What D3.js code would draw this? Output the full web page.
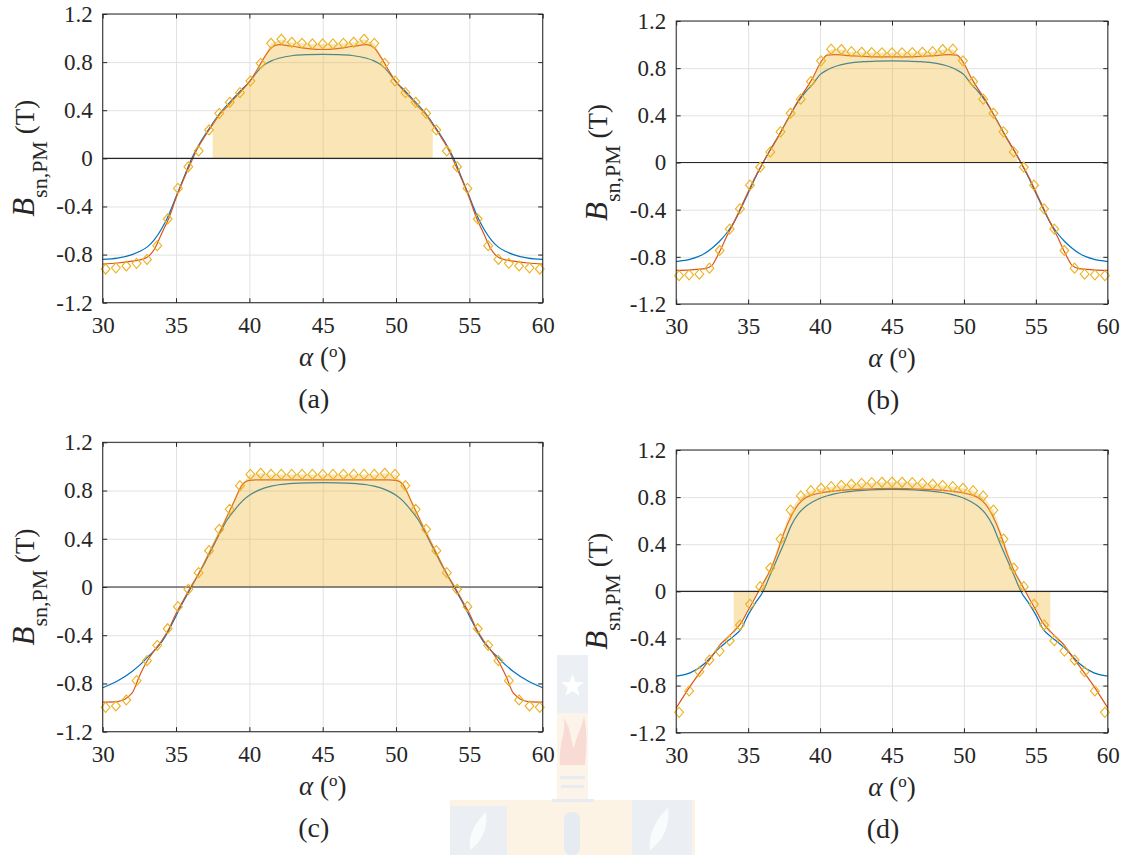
<!DOCTYPE html>
<html lang="en">
<head>
<meta charset="UTF-8">
<script src="https://d3js.org/d3.v7.min.js"></script>
<style>
  body { margin: 0; background: #fff; }
  svg text { font-family: "Liberation Serif", "Times New Roman", serif; fill: #262626; }
</style>
</head>
<body>
<svg id="fig" width="1124" height="855"></svg>
<script>
// axis ticks
const tickX = [30, 35, 40, 45, 50, 55, 60];
const tickY = [-1.2, -0.8, -0.4, 0, 0.4, 0.8, 1.2];

// angle of the diamond samples (deg)
const markerAlpha = [30.20, 30.90, 31.61, 32.31, 33.02, 33.72, 34.43, 35.13, 35.84, 36.54, 37.25,
  37.95, 38.66, 39.36, 40.07, 40.77, 41.48, 42.18, 42.89, 43.59, 44.30, 45.00, 45.70, 46.41, 47.11,
  47.82, 48.52, 49.23, 49.93, 50.64, 51.34, 52.05, 52.75, 53.46, 54.16, 54.87, 55.57, 56.28, 56.98,
  57.69, 58.39, 59.10, 59.80];

// angle of the line samples (deg)
const curveAlpha = [30, 31, 32, 32.5, 33, 33.5, 34, 34.5, 35, 35.5, 36, 36.5, 37, 37.5, 38, 38.5,
  39, 39.5, 40, 40.5, 41, 41.5, 42, 43, 44, 45, 46, 47, 48, 48.5, 49, 49.5, 50, 50.5, 51, 51.5, 52,
  52.5, 53, 53.5, 54, 54.5, 55, 55.5, 56, 56.5, 57, 57.5, 58, 59, 60];

// (a)
const markA = [-0.92, -0.91, -0.895, -0.873, -0.84, -0.726, -0.504, -0.25, -0.07, 0.061, 0.236,
  0.374, 0.466, 0.546, 0.643, 0.79, 0.956, 0.99, 0.965, 0.956, 0.951, 0.951, 0.951, 0.956, 0.965,
  0.99, 0.956, 0.79, 0.643, 0.546, 0.466, 0.374, 0.236, 0.061, -0.07, -0.25, -0.504, -0.726, -0.84,
  -0.873, -0.895, -0.91, -0.92];
const redA = [-0.88, -0.87, -0.855, -0.845, -0.825, -0.76, -0.63, -0.50, -0.33, -0.18, -0.04, 0.09,
  0.19, 0.28, 0.37, 0.43, 0.50, 0.565, 0.635, 0.73, 0.835, 0.92, 0.945, 0.93, 0.912, 0.905,
  0.912, 0.93, 0.945, 0.92, 0.835, 0.73, 0.635, 0.565, 0.50, 0.43, 0.37, 0.28, 0.19, 0.09, -0.04,
  -0.18, -0.33, -0.50, -0.63, -0.76, -0.825, -0.845, -0.855, -0.87, -0.88];
const blueA = [-0.84, -0.83, -0.80, -0.775, -0.74, -0.68, -0.59, -0.47, -0.32, -0.17, -0.02, 0.10,
  0.20, 0.29, 0.375, 0.445, 0.51, 0.575, 0.635, 0.715, 0.775, 0.81, 0.832, 0.855, 0.862, 0.864,
  0.862, 0.855, 0.832, 0.81, 0.775, 0.715, 0.635, 0.575, 0.51, 0.445, 0.375, 0.29, 0.20, 0.10, -0.02,
  -0.17, -0.32, -0.47, -0.59, -0.68, -0.74, -0.775, -0.80, -0.83, -0.84];
const fillA = [37.5, 52.5];

// (b)
const markB = [-0.96, -0.953, -0.947, -0.896, -0.746, -0.565, -0.393, -0.192, -0.04, 0.09, 0.26,
  0.418, 0.537, 0.687, 0.862, 0.961, 0.958, 0.94, 0.935, 0.932, 0.93, 0.93, 0.93, 0.932, 0.935,
  0.94, 0.958, 0.961, 0.862, 0.687, 0.537, 0.418, 0.26, 0.09, -0.04, -0.192, -0.393, -0.565, -0.746,
  -0.896, -0.947, -0.953, -0.96];
const redB = [-0.915, -0.91, -0.90, -0.87, -0.76, -0.63, -0.51, -0.38, -0.25, -0.12, -0.01, 0.10,
  0.20, 0.31, 0.42, 0.53, 0.62, 0.72, 0.84, 0.91, 0.915, 0.912, 0.906, 0.90, 0.896, 0.895,
  0.896, 0.90, 0.906, 0.912, 0.915, 0.91, 0.84, 0.72, 0.62, 0.53, 0.42, 0.31, 0.20, 0.10, -0.01,
  -0.12, -0.25, -0.38, -0.51, -0.63, -0.76, -0.87, -0.90, -0.91, -0.915];
const blueB = [-0.84, -0.82, -0.77, -0.725, -0.67, -0.60, -0.51, -0.39, -0.26, -0.13, -0.01, 0.10,
  0.20, 0.31, 0.42, 0.52, 0.60, 0.665, 0.745, 0.785, 0.812, 0.83, 0.843, 0.855, 0.86, 0.862,
  0.86, 0.855, 0.843, 0.83, 0.812, 0.785, 0.745, 0.665, 0.60, 0.52, 0.42, 0.31, 0.20, 0.10, -0.01,
  -0.13, -0.26, -0.39, -0.51, -0.60, -0.67, -0.725, -0.77, -0.82, -0.84];
const fillB = [36.3, 53.7];

// (c)
const markC = [-0.998, -0.987, -0.937, -0.777, -0.611, -0.484, -0.346, -0.163, -0.019, 0.119, 0.301,
  0.478, 0.644, 0.84, 0.934, 0.943, 0.934, 0.934, 0.934, 0.934, 0.934, 0.934, 0.934, 0.934, 0.934,
  0.934, 0.934, 0.943, 0.934, 0.84, 0.644, 0.478, 0.301, 0.119, -0.019, -0.163, -0.346, -0.484, -0.611,
  -0.777, -0.937, -0.987, -0.998];
const redC = [-0.955, -0.95, -0.88, -0.74, -0.62, -0.53, -0.45, -0.35, -0.22, -0.11, 0.00, 0.10,
  0.22, 0.34, 0.46, 0.59, 0.72, 0.845, 0.885, 0.888, 0.888, 0.888, 0.888, 0.888, 0.888, 0.888,
  0.888, 0.888, 0.888, 0.888, 0.888, 0.888, 0.885, 0.845, 0.72, 0.59, 0.46, 0.34, 0.22, 0.10, 0.00,
  -0.11, -0.22, -0.35, -0.45, -0.53, -0.62, -0.74, -0.88, -0.95, -0.955];
const blueC = [-0.835, -0.78, -0.70, -0.65, -0.59, -0.53, -0.46, -0.36, -0.24, -0.12, -0.01, 0.10,
  0.21, 0.33, 0.45, 0.56, 0.64, 0.71, 0.76, 0.795, 0.82, 0.837, 0.848, 0.86, 0.864, 0.865,
  0.864, 0.86, 0.848, 0.837, 0.82, 0.795, 0.76, 0.71, 0.64, 0.56, 0.45, 0.33, 0.21, 0.10, -0.01,
  -0.12, -0.24, -0.36, -0.46, -0.53, -0.59, -0.65, -0.70, -0.78, -0.835];
const fillC = [36.0, 54.0];

// (d)
const markD = [-1.027, -0.845, -0.682, -0.583, -0.507, -0.419, -0.286, -0.11, 0.04, 0.198, 0.444,
  0.69, 0.81, 0.855, 0.875, 0.889, 0.90, 0.909, 0.917, 0.923, 0.926, 0.928, 0.926, 0.923, 0.917,
  0.909, 0.90, 0.889, 0.875, 0.855, 0.81, 0.69, 0.444, 0.198, 0.04, -0.11, -0.286, -0.419, -0.507,
  -0.583, -0.682, -0.845, -1.027];
const redD = [-0.99, -0.80, -0.63, -0.55, -0.46, -0.40, -0.34, -0.27, -0.16, -0.05, 0.06, 0.17,
  0.32, 0.50, 0.64, 0.74, 0.795, 0.82, 0.835, 0.845, 0.852, 0.858, 0.862, 0.868, 0.873, 0.875,
  0.873, 0.868, 0.862, 0.858, 0.852, 0.845, 0.835, 0.82, 0.795, 0.74, 0.64, 0.50, 0.32, 0.17, 0.06,
  -0.05, -0.16, -0.27, -0.34, -0.40, -0.46, -0.55, -0.63, -0.80, -0.99];
const blueD = [-0.72, -0.69, -0.61, -0.545, -0.48, -0.43, -0.38, -0.32, -0.20, -0.10, -0.01, 0.13,
  0.27, 0.41, 0.56, 0.66, 0.72, 0.76, 0.79, 0.812, 0.828, 0.839, 0.847, 0.858, 0.864, 0.866,
  0.864, 0.858, 0.847, 0.839, 0.828, 0.812, 0.79, 0.76, 0.72, 0.66, 0.56, 0.41, 0.27, 0.13, -0.01,
  -0.10, -0.20, -0.32, -0.38, -0.43, -0.48, -0.545, -0.61, -0.69, -0.72];
const fillD = [34.0, 56.0];

const captions = ["(a)", "(b)", "(c)", "(d)"];

const panels = [
  { box: [102.7, 542.7, 14, 302.7], mark: markA, red: redA, blue: blueA, fill: fillA },
  { box: [676.2, 1107.8, 21, 304], mark: markB, red: redB, blue: blueB, fill: fillB },
  { box: [102.7, 542.7, 442.3, 731.7], mark: markC, red: redC, blue: blueC, fill: fillC },
  { box: [676.2, 1107.8, 450, 732.7], mark: markD, red: redD, blue: blueD, fill: fillD }
];

const FONT = "'Liberation Serif', 'Times New Roman', serif";
const svg = d3.select("#fig");

function drawWatermark() {
  const g = svg.append("g").attr("opacity", 0.8);
  g.append("rect").attr("x", 450).attr("y", 800).attr("width", 245).attr("height", 55).attr("fill", "#fdf1de");
  g.append("rect").attr("x", 450).attr("y", 806).attr("width", 57).attr("height", 49).attr("fill", "#e7ebf1");
  g.append("rect").attr("x", 632).attr("y", 800).attr("width", 60).attr("height", 55).attr("fill", "#e7ebf1");
  g.append("rect").attr("x", 557).attr("y", 655).attr("width", 31).attr("height", 58).attr("fill", "#e8ecf2");
  g.append("rect").attr("x", 557).attr("y", 713).attr("width", 31).attr("height", 87).attr("fill", "#fdf2e4");
  // star
  const star = d3.range(10).map(i => {
    const r = i % 2 ? 5 : 12, a = -Math.PI / 2 + i * Math.PI / 5;
    return [572.5 + r * Math.cos(a), 686 + r * Math.sin(a)];
  });
  g.append("path").attr("d", d3.line()(star) + "Z").attr("fill", "#ffffff");
  // flames
  g.append("path").attr("d", "M560,765 C558,745 566,735 564,718 C572,730 570,740 574,748 C576,736 582,728 584,716 C588,735 586,752 585,765 Z")
    .attr("fill", "#f8d3cb");
  g.append("rect").attr("x", 560).attr("y", 776).attr("width", 25).attr("height", 3).attr("fill", "#e3e8ef");
  g.append("rect").attr("x", 561).attr("y", 785).attr("width", 23).attr("height", 3).attr("fill", "#e3e8ef");
  g.append("rect").attr("x", 552).attr("y", 799).attr("width", 42).attr("height", 3).attr("fill", "#e3e8ef");
  g.append("rect").attr("x", 564).attr("y", 812).attr("width", 16).attr("height", 43).attr("rx", 7).attr("fill", "#e1e6ee");
  g.append("path").attr("d", "M650,850 C648,830 660,815 668,808 C670,825 664,840 650,850 Z").attr("fill", "#fafbfd");
  g.append("path").attr("d", "M470,850 C468,832 478,820 486,812 C488,828 482,842 470,850 Z").attr("fill", "#fafbfd");
}

function interp(xs, ys, v) {
  const i = Math.max(1, Math.min(xs.length - 1, d3.bisectLeft(xs, v)));
  const t = (v - xs[i - 1]) / (xs[i] - xs[i - 1]);
  return ys[i - 1] + t * (ys[i] - ys[i - 1]);
}

function drawPanel(p, idx) {
  const [L, R, T, B] = p.box;
  const x = d3.scaleLinear().domain([30, 60]).range([L, R]);
  const y = d3.scaleLinear().domain([-1.2, 1.2]).range([B, T]);
  const g = svg.append("g");

  g.append("rect").attr("x", L).attr("y", T).attr("width", R - L).attr("height", B - T).attr("fill", "#fff");

  // grid
  g.append("g").attr("class", "grid").attr("transform", `translate(0,${B})`)
    .call(d3.axisBottom(x).tickValues(tickX).tickSize(-(B - T)).tickFormat(""))
    .call(s => s.select(".domain").remove());
  g.append("g").attr("class", "grid").attr("transform", `translate(${L},0)`)
    .call(d3.axisLeft(y).tickValues(tickY).tickSize(-(R - L)).tickFormat(""))
    .call(s => s.select(".domain").remove());
  g.selectAll(".grid line").attr("stroke", "#e2e2e2");

  // lines
  const line = d3.line().x((d, i) => x(curveAlpha[i])).y(d => y(d)).curve(d3.curveMonotoneX);
  g.append("path").attr("d", line(p.blue)).attr("fill", "none").attr("stroke", "#0072BD").attr("stroke-width", 1.2);
  g.append("path").attr("d", line(p.red)).attr("fill", "none").attr("stroke", "#D95319").attr("stroke-width", 1.2);

  // shaded area following the diamond samples
  const [f0, f1] = p.fill;
  const pts = [[f0, interp(markerAlpha, p.mark, f0)]];
  markerAlpha.forEach((a, i) => { if (a > f0 && a < f1) pts.push([a, p.mark[i]]); });
  pts.push([f1, interp(markerAlpha, p.mark, f1)]);
  const area = d3.area().x(d => x(d[0])).y0(y(0)).y1(d => y(d[1]));
  g.append("path").attr("d", area(pts)).attr("fill", "#EDB120").attr("fill-opacity", 0.33);

  // zero line
  g.append("line").attr("x1", L).attr("x2", R).attr("y1", y(0)).attr("y2", y(0))
    .attr("stroke", "#262626").attr("stroke-width", 1.1);

  // diamonds
  const diamond = d3.symbol().type(d3.symbolDiamond2).size(64);
  g.selectAll(".mk").data(p.mark).join("path")
    .attr("d", diamond)
    .attr("transform", (d, i) => `translate(${x(markerAlpha[i])},${y(d)}) scale(0.88,1.0)`)
    .attr("fill", "none").attr("stroke", "#EDB120").attr("stroke-width", 1.2);

  // box and ticks
  const fmt = d => String(d);
  const frame = g.append("g").attr("class", "frame");
  frame.append("g").attr("transform", `translate(0,${B})`)
    .call(d3.axisBottom(x).tickValues(tickX).tickSizeInner(-4.5).tickSizeOuter(0).tickPadding(14).tickFormat(fmt));
  frame.append("g").attr("transform", `translate(${L},0)`)
    .call(d3.axisLeft(y).tickValues(tickY).tickSizeInner(-4.5).tickSizeOuter(0).tickPadding(10).tickFormat(fmt));
  frame.append("g").attr("transform", `translate(0,${T})`)
    .call(d3.axisTop(x).tickValues(tickX).tickSizeInner(-4.5).tickSizeOuter(0).tickFormat(""));
  frame.append("g").attr("transform", `translate(${R},0)`)
    .call(d3.axisRight(y).tickValues(tickY).tickSizeInner(-4.5).tickSizeOuter(0).tickFormat(""));
  frame.selectAll(".domain").remove();
  frame.selectAll("line").attr("stroke", "#262626");
  frame.selectAll("text").attr("font-size", 23).style("font-family", FONT).style("fill", "#262626");
  g.append("rect").attr("x", L).attr("y", T).attr("width", R - L).attr("height", B - T)
    .attr("fill", "none").attr("stroke", "#262626").attr("stroke-width", 1);

  // y label
  const yl = g.append("text")
    .attr("transform", `translate(${L - 69},${(T + B) / 2}) rotate(-90)`)
    .attr("text-anchor", "middle").attr("font-size", 27).style("font-family", FONT);
  yl.append("tspan").attr("font-style", "italic").attr("font-size", 31).text("B");
  yl.append("tspan").attr("font-size", 22).attr("dy", 13).text("sn,PM");
  yl.append("tspan").attr("dy", -13).text("\u00a0(T)");

  // x label
  const xl = g.append("text").attr("x", (L + R) / 2).attr("y", B + 63)
    .attr("text-anchor", "middle").attr("font-size", 27).style("font-family", FONT);
  xl.append("tspan").attr("font-style", "italic").text("\u03b1");
  xl.append("tspan").text(" (");
  xl.append("tspan").attr("font-size", 17).attr("dy", -9).text("o");
  xl.append("tspan").attr("dy", 9).text(")");

  // caption
  g.append("text").attr("x", (L + R) / 2 - 9).attr("y", B + 105)
    .attr("text-anchor", "middle").attr("font-size", 28).style("font-family", FONT).text(captions[idx]);
}

drawWatermark();
panels.forEach(drawPanel);
</script>
</body>
</html>
